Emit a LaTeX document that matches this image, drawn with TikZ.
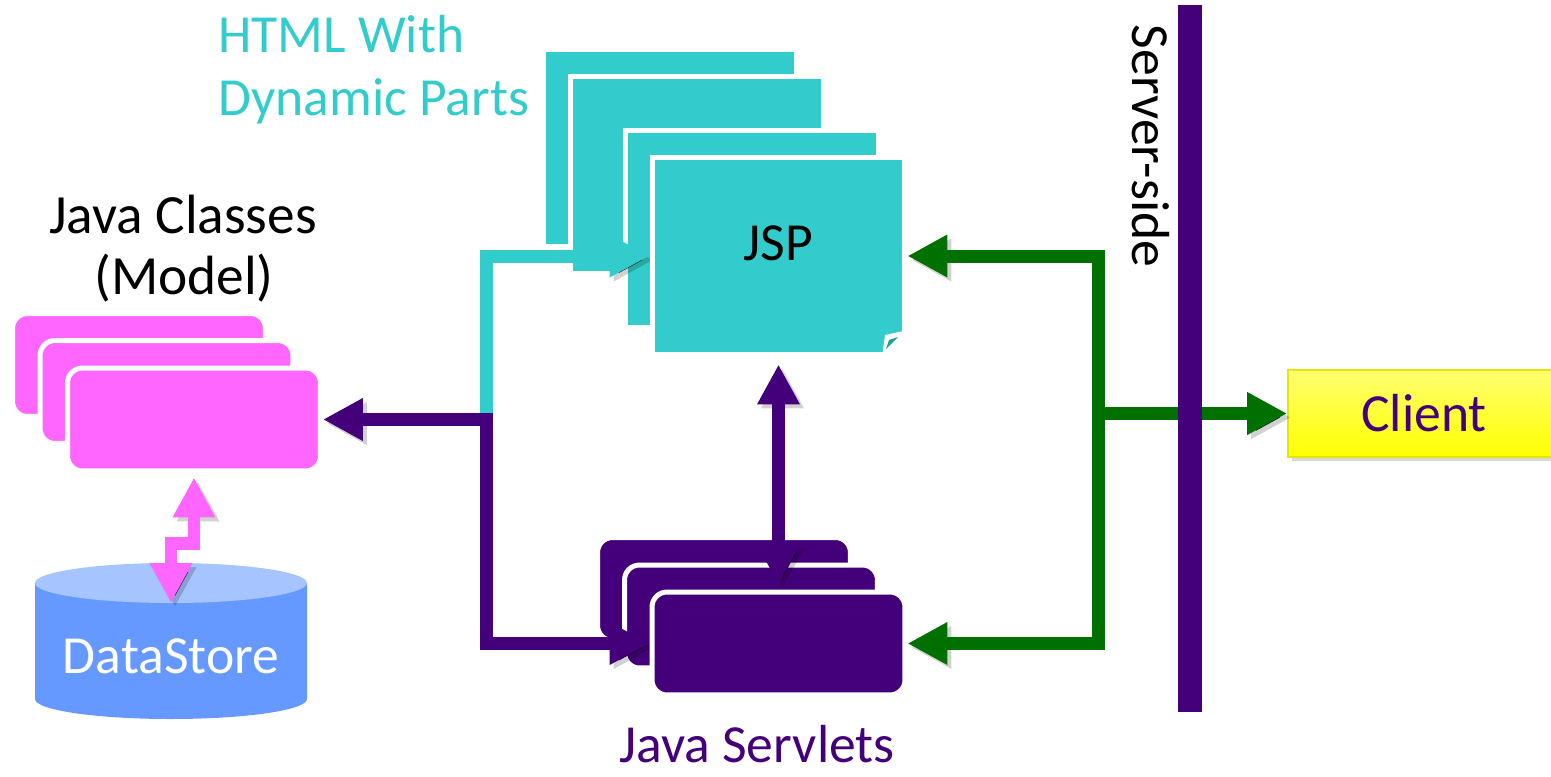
\documentclass[tikz,border=0pt]{standalone}
\usepackage{fontspec}
\setmainfont{Carlito}
\usetikzlibrary{arrows.meta,calc,shadows}
\definecolor{cteal}{HTML}{33CCCC}
\definecolor{cdteal}{HTML}{1E9E9E}
\definecolor{cpink}{HTML}{FF66FF}
\definecolor{cpurp}{HTML}{44007A}
\definecolor{cgreen}{HTML}{007000}
\definecolor{cdsbody}{HTML}{6699FF}
\definecolor{cdstop}{HTML}{A6C4FF}
\definecolor{cyeltop}{HTML}{FFFF70}
\definecolor{cyelbot}{HTML}{FFFF00}
\definecolor{cyeledge}{HTML}{E6E600}
\pgfdeclarelayer{back}
\pgfsetlayers{back,main}
\begin{document}
\begin{tikzpicture}[x=0.02cm,y=-0.02cm,
  font=\fontsize{30.5}{36}\selectfont,
  >={Triangle[width=0.8cm,length=0.8cm]},
  page/.style={rectangle, fill=cteal, draw=white, line width=0.1cm,
    minimum width=5.06cm, minimum height=3.96cm, inner sep=0pt},
  model/.style={rectangle, rounded corners=0.3cm, fill=cpink, draw=white, line width=0.1cm,
    minimum width=5.06cm, minimum height=2.06cm, inner sep=0pt},
  servlet/.style={model, fill=cpurp},
  conn/.style={line width=0.26cm,
    preaction={draw=black, draw opacity=0.18, transform canvas={shift={(4,4)}}}},
  txt/.style={inner sep=0pt}]
\clip (0,0) rectangle (1551,777);

% ---- front JSP page and front servlet (main layer)
\node[page] (jsp4) at (778.5,256) {};
\fill[white] (882,357) -- (885,335) -- (908,330) -- (908,358) -- cycle;
\fill[cdteal] (886,349) -- (898,337) -- (889,340) -- cycle;
\node[txt, anchor=base] (jsplbl) at (778,260) {JSP};
\node[servlet] (s3) at (778.5,643.5) {};

\coordinate (jn) at (486,420);
\coordinate (jb) at (486,643.5);

\begin{pgfonlayer}{back}
  \node[page] (jsp1) at (670,148) {};
  \node[page] (jsp2) at (697,175) {};
  \node[page] (jsp3) at (752,229) {};
  \node[servlet] (s1) at (724,589) {};
  \node[servlet] (s2) at (751,616.5) {};
  \draw[conn, cteal, ->] ($(jn)+(0,-6)$) |- (jsp4.west);
\end{pgfonlayer}

% ---- model stack
\node[model] (p1) at (139,365) {};
\node[model] (p2) at (166.5,392) {};
\node[model] (p3) at (194,419.5) {};

% ---- datastore cylinder
\fill[cdsbody] (35,583) -- (35,699) arc[start angle=180,end angle=0,x radius=136,y radius=20] -- (307,583) -- cycle;
\fill[cdstop] (171,583) ellipse[x radius=136,y radius=20];
\coordinate (dstop) at (171,603);
\node[txt, anchor=base, text=white] (ds) at (171,673) {DataStore};

\draw[conn, cpink, line width=0.25cm, <->] ($(p3.south)+(0,4)$) -- ++(0,66) -| (dstop);

% ---- purple connectors
\begin{pgfonlayer}{back}
  \draw[conn, cpurp, <->] (p3.east) -- (p3.east -| jn) -- (jb) -- (s3.west);
  \draw[conn, cpurp, <->] ($(jsp4.south)+(0,7)$) -- ($(s3.north)+(0,-5)$);
\end{pgfonlayer}

% ---- client
\node[rectangle, top color=cyeltop, bottom color=cyelbot, draw=cyeledge, line width=1pt,
  minimum width=5.44cm, minimum height=1.74cm, inner sep=0pt, text=cpurp,
  drop shadow={shadow xshift=0.08cm, shadow yshift=-0.08cm, opacity=0.3}]
  (client) at (1424,413.5) {Client};

% ---- green connectors
\coordinate (gt) at (1098,256);
\coordinate (gb) at (1098,643.5);
\coordinate (gm) at (1098,413.5);
\draw[conn, cgreen, <->] (jsp4.east) -- (gt) -- (gb) -- (s3.east);
\draw[conn, cgreen, ->] (gm) -- (client.west);

% ---- server-side bar
\node[rectangle, fill=cpurp, minimum width=0.48cm, minimum height=14.14cm, inner sep=0pt] (bar) at (1190,358.5) {};
\node[txt, anchor=base, rotate=-90] (ss) at (1132,146) {Server-side};

% ---- labels
\node[txt, anchor=base west, text=cteal] (html1) at (218,53) {HTML With};
\node[txt, anchor=base west, text=cteal] (html2) at (218,115) {Dynamic Parts};
\node[txt, anchor=base, font=\fontsize{31.5}{36}\selectfont] (jc1) at (183,233) {Java Classes};
\node[txt, anchor=base, font=\fontsize{31.5}{36}\selectfont] (jc2) at (184,294) {(Model)};
\node[txt, anchor=base, text=cpurp] (jsv) at (757,762) {Java Servlets};
\end{tikzpicture}
\end{document}
